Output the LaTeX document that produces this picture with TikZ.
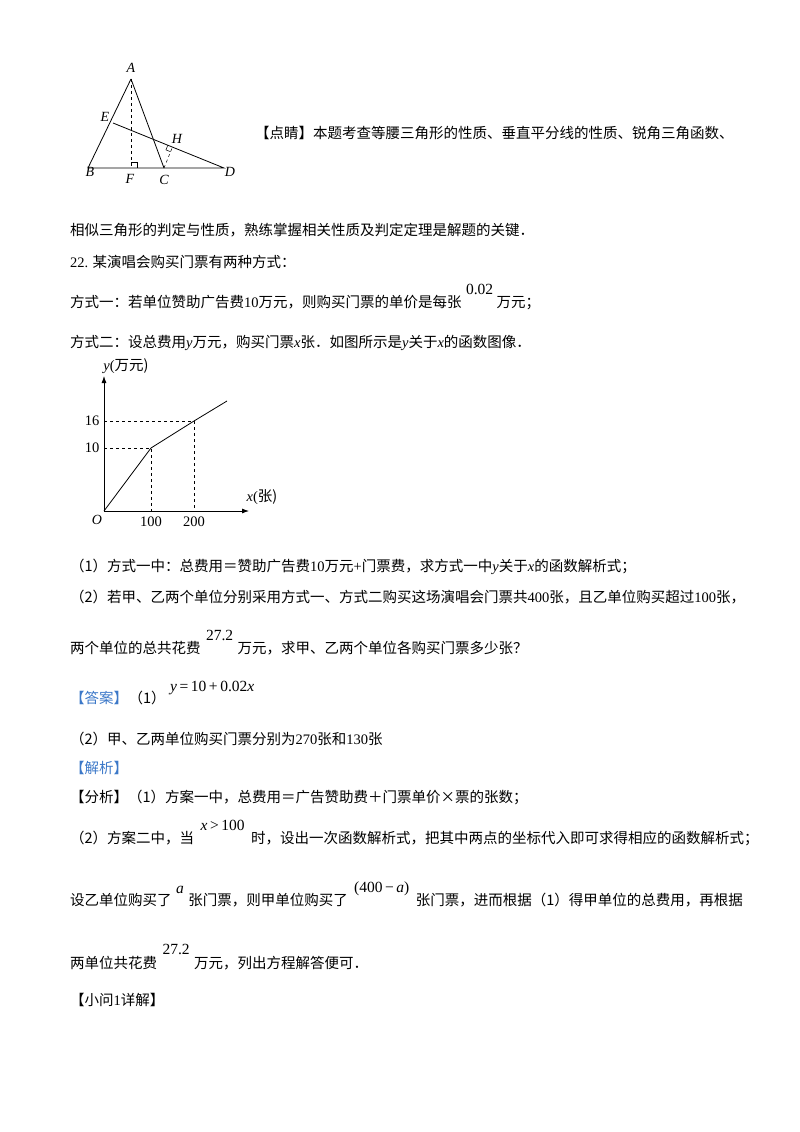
\documentclass[tikz,border=0pt]{standalone}
\usepackage{fontspec}
\setmainfont{Liberation Serif}
\newfontfamily\cjk{Noto Sans CJK SC}
\usetikzlibrary{calc,arrows.meta}
\definecolor{headcolor}{RGB}{60,120,200}
\newcommand{\rn}[1]{{\rmfamily #1}}
\newcommand{\vi}[1]{{\rmfamily\itshape #1}}
\tikzset{
  %% txt : a line of text, placed at its baseline
  txt/.style={anchor=base west, inner sep=0pt, font=\fontsize{14.5}{17}\cjk},
  %% raised : formula set a little above the line
  raised/.style={anchor=base west, inner sep=0pt, font=\fontsize{15.5}{18}\selectfont},
  %% pt : figure letter
  pt/.style={inner sep=1pt, font=\fontsize{14}{16}\selectfont\itshape},
  num/.style={inner sep=1pt, font=\fontsize{14.5}{16}\selectfont},
  fig_line/.style={line width=0.8pt},
  help_line/.style={dashed, line width=0.5pt},
  axis_arrow/.style={-{Latex[length=7pt,width=5pt]}, line width=0.8pt}
}
\begin{document}
\begin{tikzpicture}[x=1pt, y=-1pt]
  \useasboundingbox (0,0) rectangle (800,1132);

  %% Triangle figure
  \coordinate (A) at (131,79);
  \coordinate (B) at (88,168);
  \coordinate (C) at (164,168);
  \coordinate (D) at (224,168);
  \coordinate (F) at (131,168);
  \coordinate (E) at (113,123);
  \coordinate (H) at ($(E)!(C)!(D)$);
  \coordinate (h1) at ($(H)!5pt!(C)$);
  \coordinate (h2) at ($(H)!5pt!(E)$);
  \coordinate (h3) at ($(h1)+(h2)-(H)$);
  \draw [fig_line] (A) -- (B) -- (D) -- (E);
  \draw [fig_line] (A) -- (C);
  \draw [help_line] (A) -- (F);
  \draw [help_line] (C) -- (H);
  \draw [line width=0.5pt] ($(F)+(0,-6)$) -- ++(6,0) -- ++(0,6);
  \draw [line width=0.5pt] (h1) -- (h3) -- (h2);
  \node (lA) [pt] at (131,68) {A};
  \node (lE) [pt] at (105,117) {E};
  \node (lH) [pt] at (177,139) {H};
  \node (lB) [pt] at (90,172) {B};
  \node (lF) [pt] at (130,179) {F};
  \node (lC) [pt] at (164,180) {C};
  \node (lD) [pt] at (230,172) {D};

  %% Text
  \node (t1) [txt] at (255,138) {【点睛】本题考查等腰三角形的性质、垂直平分线的性质、锐角三角函数、};
  \node (t2) [txt] at (70,235) {相似三角形的判定与性质，熟练掌握相关性质及判定定理是解题的关键．};
  \node (t3) [txt] at (70,267) {\rn{22.} 某演唱会购买门票有两种方式：};
  \node (t4) [txt] at (70,307) {方式一：若单位赞助广告费\rn{10}万元，则购买门票的单价是每张};
  \node (t4f) [raised] at ($(t4.base east)+(4,-13)$) {0.02};
  \node (t4b) [txt] at ($(t4f.base east)+(3,13)$) {万元；};
  \node (t5) [txt] at (70,347) {方式二：设总费用\vi{y}万元，购买门票\vi{x}张．如图所示是\vi{y}关于\vi{x}的函数图像．};

  %% Graph
  \coordinate (O) at (104,511);
  \coordinate (p1) at (151,448);
  \coordinate (p2) at (194,421);
  \coordinate (pend) at (227,401);
  \draw [axis_arrow] (O) -- (249,511);
  \draw [axis_arrow] (O) -- (104,376);
  \draw [fig_line] (O) -- (p1) -- (p2) -- (pend);
  \draw [help_line] (104,448) -- (p1) -- (151,511);
  \draw [help_line] (104,421) -- (p2) -- (194,511);
  \node (ly) [num] at (126,366) {\textit{y}(\cjk 万元)};
  \node (lx) [num] at (262,497) {\textit{x}(\cjk 张)};
  \node (l16) [num] at (92,421) {16};
  \node (l10) [num] at (92,448) {10};
  \node (lO) [pt] at (97,520) {O};
  \node (l100) [num] at (151,522) {100};
  \node (l200) [num] at (194,522) {200};

  \node (t6) [txt] at (70,571) {（1）方式一中：总费用＝赞助广告费\rn{10}万元\rn{+}门票费，求方式一中\vi{y}关于\vi{x}的函数解析式；};
  \node (t7) [txt] at (70,602) {（2）若甲、乙两个单位分别采用方式一、方式二购买这场演唱会门票共\rn{400}张，且乙单位购买超过\rn{100}张，};
  \node (t8) [txt] at (70,653) {两个单位的总共花费};
  \node (t8f) [raised] at ($(t8.base east)+(5,-13)$) {27.2};
  \node (t8b) [txt] at ($(t8f.base east)+(4,13)$) {万元，求甲、乙两个单位各购买门票多少张？};
  \node (t9) [txt, text=headcolor] at (70,703) {【答案】};
  \node (t9b) [txt] at (t9.base east) {（1）};
  \node (t9f) [raised] at ($(t9b.base east)+(4,-12)$) {\textit{y}\,=\,10\,+\,0.02\textit{x}};
  \node (t10) [txt] at (70,744) {（2）甲、乙两单位购买门票分别为\rn{270}张和\rn{130}张};
  \node (t11) [txt, text=headcolor] at (70,773) {【解析】};
  \node (t12) [txt] at (70,802) {【分析】（1）方案一中，总费用＝广告赞助费＋门票单价×票的张数；};
  \node (t13) [txt] at (70,843) {（2）方案二中，当};
  \node (t13f) [raised] at ($(t13.base east)+(6,-13)$) {\textit{x}\,>\,100};
  \node (t13b) [txt] at ($(t13f.base east)+(6,13)$) {时，设出一次函数解析式，把其中两点的坐标代入即可求得相应的函数解析式；};
  \node (t14) [txt] at (70,905) {设乙单位购买了};
  \node (t14f) [raised] at ($(t14.base east)+(4,-12)$) {\textit{a}};
  \node (t14b) [txt] at ($(t14f.base east)+(4,12)$) {张门票，则甲单位购买了};
  \node (t14g) [raised] at ($(t14b.base east)+(6,-13)$) {(400\,−\,\textit{a})};
  \node (t14c) [txt] at ($(t14g.base east)+(6,13)$) {张门票，进而根据（1）得甲单位的总费用，再根据};
  \node (t15) [txt] at (70,968) {两单位共花费};
  \node (t15f) [raised] at ($(t15.base east)+(5,-14)$) {27.2};
  \node (t15b) [txt] at ($(t15f.base east)+(4,14)$) {万元，列出方程解答便可．};
  \node (t16) [txt] at (70,1005) {【小问\rn{1}详解】};
\end{tikzpicture}
\end{document}
